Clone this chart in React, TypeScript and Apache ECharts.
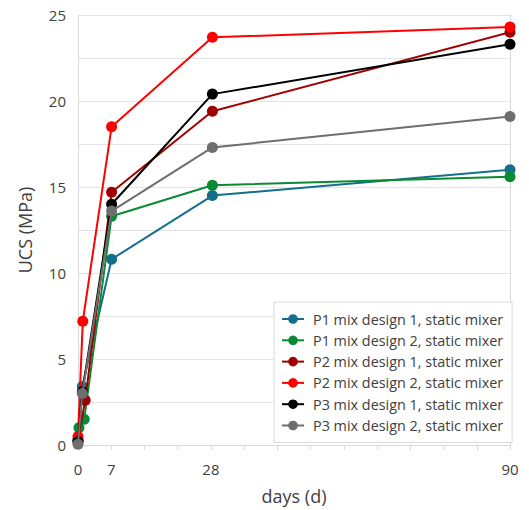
import React, { useEffect, useRef } from "react";
import * as echarts from "echarts";

const seriesNames = [
  "P1 mix design 1, static mixer",
  "P1 mix design 2, static mixer",
  "P2 mix design 1, static mixer",
  "P2 mix design 2, static mixer",
  "P3 mix design 1, static mixer",
  "P3 mix design 2, static mixer",
];
const seriesColors = ["#146e8c", "#0a8a32", "#a00000", "#ff0000", "#000000", "#6e6e6e"];

const p1md1: [number, number][] = [[0, 0.2], [0.9, 3.4], [7, 10.8], [28, 14.5], [90, 16.0]];
const p1md2: [number, number][] = [[0.2, 1.0], [1.3, 1.5], [7, 13.3], [28, 15.1], [90, 15.6]];
const p2md1: [number, number][] = [[0, 0.3], [1.5, 2.6], [7, 14.7], [28, 19.4], [90, 24.0]];
const p2md2: [number, number][] = [[0, 0.5], [1, 7.2], [7, 18.5], [28, 23.7], [90, 24.3]];
const p3md1: [number, number][] = [[0, 0.2], [0.9, 3.1], [7, 14.0], [28, 20.4], [90, 23.3]];
const p3md2: [number, number][] = [[0, 0.05], [0.9, 3.0], [7, 13.6], [28, 17.3], [90, 19.1]];
const allData = [p1md1, p1md2, p2md1, p2md2, p3md1, p3md2];

const xTickLabels = [0, 7, 28, 90];
const xMax = 90;
const xTickCount = 13;

const FONT = "Open Sans";

export default function App() {
  const ref = useRef<HTMLDivElement>(null);
  useEffect(() => {
    if (!ref.current) return;
    const chart = echarts.init(ref.current, null, { renderer: "svg" });
    chart.setOption({
      animation: false,
      backgroundColor: "#ffffff",
      grid: { left: 78, right: 19, top: 15, bottom: 63, containLabel: false },
      xAxis: {
        type: "value",
        min: 0,
        max: xMax,
        interval: xMax / xTickCount,
        name: "days (d)",
        nameLocation: "middle",
        nameGap: 42,
        nameTextStyle: { fontFamily: FONT, fontSize: 18, color: "#404040" },
        axisLine: { show: true, lineStyle: { color: "#d9d9d9", width: 1 } },
        axisTick: { show: true, length: 5, inside: false, lineStyle: { color: "#d9d9d9" } },
        splitLine: { show: false },
        axisLabel: {
          fontFamily: FONT,
          fontSize: 15,
          color: "#404040",
          margin: 16,
          showMaxLabel: true,
          formatter: (v: number) => {
            const r = Math.round(v);
            return xTickLabels.includes(r) ? String(r) : "";
          },
        },
      },
      yAxis: [
        {
          type: "value",
          min: 0,
          max: 25,
          interval: 2.5,
          name: "UCS (MPa)",
          nameLocation: "middle",
          nameGap: 44,
          nameTextStyle: { fontFamily: FONT, fontSize: 18, color: "#404040" },
          axisLine: { show: true, lineStyle: { color: "#d9d9d9", width: 1 } },
          axisTick: { show: false },
          splitLine: { show: true, lineStyle: { color: "#e3e3e3", width: 1 } },
          axisLabel: {
            fontFamily: FONT,
            fontSize: 15,
            color: "#404040",
            margin: 12,
            formatter: (v: number) => (v % 5 === 0 ? String(v) : ""),
          },
        },
        {
          type: "value",
          position: "right",
          min: 0,
          max: 25,
          axisLine: { show: true, lineStyle: { color: "#d9d9d9", width: 1 } },
          axisTick: { show: false },
          axisLabel: { show: false },
          splitLine: { show: false },
        },
      ],
      legend: {
        orient: "vertical",
        left: 274,
        top: 302,
        padding: [10, 9, 10, 7],
        itemWidth: 22,
        itemHeight: 12,
        itemGap: 7.3,
        backgroundColor: "#ffffff",
        borderColor: "#d9d9d9",
        borderWidth: 1,
        textStyle: { fontFamily: FONT, fontSize: 14.4, color: "#404040", padding: [0, 0, 0, 4] },
        data: seriesNames,
      },
      series: seriesNames.map((name, i) => ({
        name,
        type: "line",
        yAxisIndex: 0,
        data: allData[i],
        symbol: "circle",
        symbolSize: 11,
        color: seriesColors[i],
        lineStyle: { width: 2, color: seriesColors[i] },
        itemStyle: { color: seriesColors[i] },
        z: 2 + i,
      })),
    });
    return () => chart.dispose();
  }, []);
  return (
    <div
      ref={ref}
      style={{ position: "absolute", left: 0, top: 0, width: 529, height: 510 }}
    />
  );
}
